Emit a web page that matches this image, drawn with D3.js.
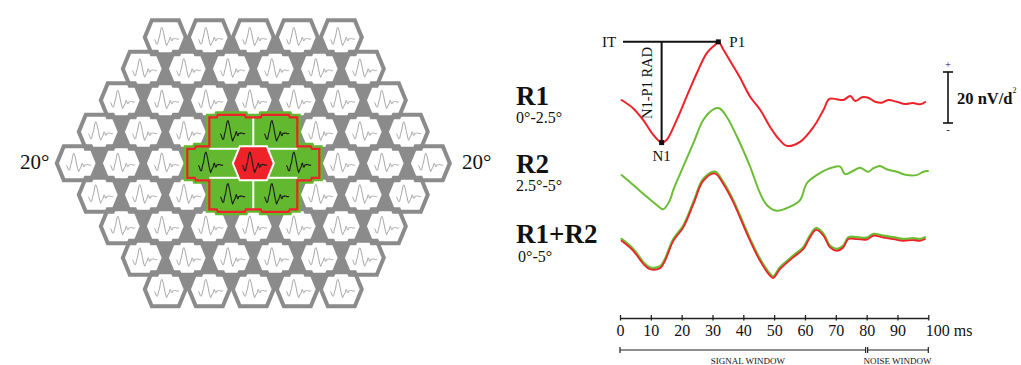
<!DOCTYPE html>
<html>
<head>
<meta charset="utf-8">
<script src="https://cdn.jsdelivr.net/npm/d3@7"></script>
<style>
  html, body { margin: 0; padding: 0; background: #fff; }
  svg { display: block; }
  text { font-family: "Liberation Serif", "Times New Roman", serif; fill: #111; }
</style>
</head>
<body>
<svg id="chart" width="1021" height="365"></svg>
<script>
// ---------------- data ----------------
const timeTicks = [0, 10, 20, 30, 40, 50, 60, 70, 80, 90, 100];
const signalWindow = [0, 80];
const noiseWindow = [80, 100];
const scaleBarValue = 20; // nV/deg²

// Ring 1 (0°-2.5°) averaged response, nV/deg² against time in ms
const r1Time = [0.5, 4.3, 7.5, 10.8, 13.5, 15.1, 18.4, 21.6, 24.9, 28.1, 30.8, 31.9, 33.6, 36.8, 39, 42.2, 45.5, 48.7, 50.9, 54.1, 58.4, 62.8, 66, 67.9, 70.3, 72.5, 74.7, 76.3, 78.5, 80.5, 82.8, 84.9, 87, 89.8, 92.5, 95, 97.4, 99];
const r1Amp = [0, -3.3, -7.8, -13.7, -16.7, -15.7, -7.8, 1.3, 10.5, 18.3, 21.6, 22.8, 19.6, 13.1, 8.6, 1.3, -3.9, -10.6, -14.4, -18, -16.4, -10.5, -3.9, 0.4, 0.3, 0, 1.6, -0.4, 1.1, 0.9, -0.7, -1.1, 0, -0.7, -1.6, -1.2, -1.7, -0.8];

// Ring 2 (2.5°-5°)
const r2Time = [0.5, 4.3, 8.7, 11.9, 14, 16.2, 17.3, 20.5, 23.8, 27, 30.3, 32.2, 34.6, 38.9, 42.2, 45.4, 47.6, 50.8, 55.1, 58.4, 60.6, 63.8, 68.1, 71.4, 73, 75.7, 77.8, 80.5, 82.2, 84.3, 86.5, 89.8, 93, 96.2, 98.4, 99.9];
const r2Amp = [-2, -5.9, -10.5, -13.7, -15.4, -11.8, -7.8, 1.3, 10.5, 19.6, 23.8, 24.2, 20.9, 10.6, 1.3, -9, -13.7, -16, -14.4, -11.8, -5.2, -2, 0.7, 1.3, -1.6, -0.3, 0.9, -0.7, 0.7, 1.6, 0.3, -0.7, -2, -2, -0.7, -0.4];

// Rings 1+2 (0°-5°)
const r12Time = [0.5, 4.3, 7.6, 9.7, 13, 14.6, 17.3, 20.5, 23.8, 27, 30.8, 33.5, 36.8, 38.9, 42.2, 45.4, 48.7, 49.7, 51.9, 56.2, 59.5, 61.6, 63.6, 66, 68.1, 70.3, 72.4, 74.1, 76.8, 80, 82.2, 85.4, 88.7, 91.9, 95.1, 97.3, 98.9];
const r12Amp = [-0.8, -4.7, -9.9, -11.9, -11.5, -8.6, -0.8, 4.4, 13.6, 22.7, 25.6, 21.5, 14.2, 8.4, -0.8, -8.6, -14.5, -15.4, -11.9, -7.3, -4, 0.5, 3.5, 1.2, -3.4, -4.7, -3.4, -0.1, -0.1, -0.3, 1.2, 0.5, -0.1, -0.8, -0.5, -0.8, -0.1];

const ringNames = ["R1", "R2", "R1+R2"];
const ringRanges = ["0°-2.5°", "2.5°-5°", "0°-5°"];
const fieldLabel = "20°";

// ---------------- colours ----------------
const RED = "#ee2229";
const GREEN = "#62b82f";
const GRID_GRAY = "#8b8b8b";
const TRACE_GRAY = "#9b9b9b";

const svg = d3.select("#chart");
const zip = (t, v) => t.map((d, i) => ({ t: d, v: v[i] }));

// ---------------- 61-element hexagon array ----------------
const arrayCenter = [253.3, 163.3];
const colStep = 44, rowStep = 31.5, half = colStep / 2;
const hw = 20.5, ha = 13.5, hh = 17;         // hexagon: half width, half flat edge, half height
const ey = rowStep - hh;                      // level where a cell meets the next row
const ex = ha + (hw - ha) * (hh - ey) / hh;   // slanted edge at that level
const hexShape = [[hw, 0], [ha, hh], [-ha, hh], [-hw, 0], [-ha, -hh], [ha, -hh]];

const cells = [];
for (let r = -4; r <= 4; r++) {
  for (let q = Math.max(-4, -4 - r); q <= Math.min(4, 4 - r); q++) {
    const ring = Math.max(Math.abs(q), Math.abs(r), Math.abs(q + r));
    cells.push({
      q, r, ring,
      x: arrayCenter[0] + colStep * (q + r / 2),
      y: arrayCenter[1] + rowStep * r
    });
  }
}
const cellAt = (q, r) => cells.find(c => c.q === q && c.r === r);
const vert = (c, i) => [c.x + hexShape[i][0], c.y + hexShape[i][1]];
const polyPath = pts => d3.line()(pts) + "Z";
const hexPath = c => polyPath(hexShape.map((p, i) => vert(c, i)));

// wedges between two cells of a row and the cell above or below them
const wedges = [];
cells.forEach(A => {
  const B = cellAt(A.q + 1, A.r);
  if (!B) return;
  const below = cellAt(A.q, A.r + 1);
  if (below) wedges.push([vert(A, 0), vert(B, 3), vert(below, 5), vert(below, 4)]);
  const above = cellAt(A.q + 1, A.r - 1);
  if (above) wedges.push([vert(A, 0), vert(B, 3), vert(above, 1), vert(above, 2)]);
});

const gArray = svg.append("g");
gArray.selectAll("path.wedge")
  .data(wedges)
  .join("path")
  .attr("d", polyPath)
  .attr("fill", GRID_GRAY)
  .attr("stroke", GRID_GRAY)
  .attr("stroke-width", 1);
gArray.selectAll("path.hexFill")
  .data(cells)
  .join("path")
  .attr("d", hexPath)
  .attr("fill", "#fff");
gArray.selectAll("path.hexEdge")
  .data(cells)
  .join("path")
  .attr("d", hexPath)
  .attr("fill", "none")
  .attr("stroke", GRID_GRAY)
  .attr("stroke-width", 4)
  .attr("stroke-linejoin", "miter");

// central seven: outline (one quadrant, mirrored round)
const quad = [
  [0, -(rowStep + ey)], [half - ex, -(rowStep + ey)], [half - ha, -(rowStep + hh)], [half + ha, -(rowStep + hh)],
  [half + ex, -(rowStep + ey)], [colStep, -(rowStep + ey)], [colStep, -hh], [colStep + ha, -hh],
  [colStep + ex, -ey], [colStep + half, -ey], [colStep + half, 0]
];
const loop = [
  ...quad,
  ...quad.slice(0, -1).reverse().map(([a, b]) => [a, -b]),
  ...quad.slice(1).map(([a, b]) => [-a, -b]),
  ...quad.slice(1, -1).reverse().map(([a, b]) => [-a, b])
];
const at = ([dx, dy]) => [arrayCenter[0] + dx, arrayCenter[1] + dy];
const outlinePath = polyPath(loop.map(at));

gArray.append("path")
  .attr("d", outlinePath)
  .attr("fill", GREEN)
  .attr("stroke", GREEN)
  .attr("stroke-width", 7)
  .attr("stroke-linejoin", "miter");

const C0 = cellAt(0, 0);
gArray.append("path")
  .attr("d", hexPath(C0))
  .attr("fill", RED)
  .attr("stroke", "#fff")
  .attr("stroke-width", 2);

// white dividers between the six surrounding cells
const spokes = [
  [[0, -hh], [0, -(rowStep + ey)]],
  [[0, hh], [0, rowStep + ey]],
  [[ex, -ey], [colStep, -ey]],
  [[ex, ey], [colStep, ey]],
  [[-ex, -ey], [-colStep, -ey]],
  [[-ex, ey], [-colStep, ey]]
];
gArray.selectAll("line.spoke")
  .data(spokes)
  .join("line")
  .attr("x1", d => at(d[0])[0]).attr("y1", d => at(d[0])[1])
  .attr("x2", d => at(d[1])[0]).attr("y2", d => at(d[1])[1])
  .attr("stroke", "#fff").attr("stroke-width", 2);

gArray.append("path")
  .attr("d", outlinePath)
  .attr("fill", "none")
  .attr("stroke", RED)
  .attr("stroke-width", 2.2)
  .attr("stroke-linejoin", "miter");

// small local response drawn inside every cell
const ringGain = [0.5, 0.5, 0.47, 0.46, 0.45];
const cellWave = zip(r12Time, r12Amp);
cells.forEach(c => {
  const sx = d3.scaleLinear().domain([0, 100]).range([c.x - 11, c.x + 14]);
  const sy = d3.scaleLinear().domain([0, 10]).range([c.y + 1.5, c.y + 1.5 - 10 * ringGain[c.ring]]);
  gArray.append("path")
    .datum(cellWave)
    .attr("d", d3.line().x(d => sx(d.t)).y(d => sy(d.v)).curve(d3.curveCatmullRom.alpha(0.5)))
    .attr("fill", "none")
    .attr("stroke", c.ring <= 1 ? "#1b1b1b" : TRACE_GRAY)
    .attr("stroke-width", c.ring <= 1 ? 1.1 : 0.9);
});

// field extent labels
svg.append("text").attr("x", 20).attr("y", 169).attr("font-size", 21).text(fieldLabel);
svg.append("text").attr("x", 462).attr("y", 169).attr("font-size", 21).text(fieldLabel);

// ---------------- ring responses ----------------
const x = d3.scaleLinear().domain([0, 100]).range([620, 928.3]);
const pxPerUnit = 51 / scaleBarValue;
const yFor = base => d3.scaleLinear().domain([0, 1]).range([base, base - pxPerUnit]);
const yR1 = yFor(100), yR2 = yFor(170);
const curve = d3.curveCatmullRom.alpha(0.5);
const lineWith = ys => d3.line().x(d => x(d.t)).y(d => ys(d.v)).curve(curve);

const r1Data = zip(r1Time, r1Amp);
const r2Data = zip(r2Time, r2Amp);
const r12Data = zip(r12Time, r12Amp);

const gTr = svg.append("g").attr("fill", "none").attr("stroke-linejoin", "round").attr("stroke-linecap", "round");

// N1 trough and P1 peak of the R1 response
const early = r1Data.filter(d => d.t < 40);
const n1 = early.reduce((a, b) => (b.v < a.v ? b : a));
const p1 = early.reduce((a, b) => (b.v > a.v ? b : a));
const gMeas = svg.append("g");
gMeas.append("line").attr("x1", 623).attr("x2", x(p1.t)).attr("y1", yR1(p1.v)).attr("y2", yR1(p1.v))
  .attr("stroke", "#111").attr("stroke-width", 2);
gMeas.append("line").attr("x1", x(n1.t)).attr("x2", x(n1.t)).attr("y1", yR1(p1.v)).attr("y2", yR1(n1.v))
  .attr("stroke", "#111").attr("stroke-width", 2);

gTr.append("path").datum(r1Data).attr("d", lineWith(yR1)).attr("stroke", RED).attr("stroke-width", 2);
gTr.append("path").datum(r2Data).attr("d", lineWith(yR2)).attr("stroke", "#6cbd36").attr("stroke-width", 2);
gTr.append("path").datum(r12Data).attr("d", lineWith(yFor(237))).attr("stroke", "#6cbd36").attr("stroke-width", 2.4);
gTr.append("path").datum(r12Data).attr("d", lineWith(yFor(238.8))).attr("stroke", RED).attr("stroke-width", 1.8);

[n1, p1].forEach(pk => {
  gMeas.append("rect").attr("x", x(pk.t) - 2.5).attr("y", yR1(pk.v) - 2.5).attr("width", 5).attr("height", 5).attr("fill", "#111");
});
gMeas.append("text").attr("x", 602).attr("y", 47).attr("font-size", 15).text("IT");
gMeas.append("text").attr("x", x(p1.t) + 11).attr("y", 47).attr("font-size", 15).text("P1");
gMeas.append("text").attr("x", x(n1.t)).attr("y", yR1(n1.v) + 18).attr("text-anchor", "middle").attr("font-size", 15).text("N1");
gMeas.append("text")
  .attr("transform", `translate(${x(n1.t) - 10},83) rotate(-90)`)
  .attr("text-anchor", "middle").attr("font-size", 14.5).text("N1-P1 RAD");

// ring labels
const labelBase = [104.5, 173, 242.5];
const rangeBase = [122.5, 191, 262];
ringNames.forEach((n, i) => {
  svg.append("text").attr("x", 516).attr("y", labelBase[i]).attr("font-size", 27).attr("font-weight", "bold").text(n);
  svg.append("text").attr("x", i === 2 ? 518 : 516).attr("y", rangeBase[i]).attr("font-size", 16).text(ringRanges[i]);
});

// amplitude scale bar
const gBar = svg.append("g").attr("stroke", "#111").attr("stroke-width", 1.6);
const barTop = yR1(0) - 28, barBot = barTop + scaleBarValue * pxPerUnit;
gBar.append("line").attr("x1", 948).attr("x2", 948).attr("y1", barTop).attr("y2", barBot);
gBar.append("line").attr("x1", 943).attr("x2", 953).attr("y1", barTop).attr("y2", barTop);
gBar.append("line").attr("x1", 943).attr("x2", 953).attr("y1", barBot).attr("y2", barBot);
svg.append("text").attr("x", 948).attr("y", barTop - 4).attr("text-anchor", "middle").attr("font-size", 10).text("+");
svg.append("text").attr("x", 948).attr("y", barBot + 10).attr("text-anchor", "middle").attr("font-size", 11).text("-");
const barLabel = svg.append("text").attr("x", 957).attr("y", 104).attr("font-size", 16.5).attr("font-weight", "bold");
barLabel.append("tspan").text(scaleBarValue + " nV/d");
barLabel.append("tspan").attr("dy", -11).attr("font-size", 8).attr("font-weight", "normal").text("2");

// ---------------- time axis ----------------
const gAx = svg.append("g").attr("transform", "translate(0,318)")
  .call(d3.axisBottom(x).tickValues(timeTicks).tickSizeInner(3).tickSizeOuter(0).tickFormat(d => d === 100 ? "100 ms" : d));
gAx.select(".domain").attr("stroke", "#222").attr("stroke-width", 1.3);
gAx.selectAll(".tick line").attr("y1", -3).attr("y2", 2.5).attr("stroke", "#222").attr("stroke-width", 1.3);
gAx.selectAll(".tick text")
  .attr("y", 7).attr("font-size", 16).attr("font-family", "Liberation Serif, serif").attr("fill", "#111")
  .filter(d => d === 100).attr("text-anchor", "start").attr("x", -3);

// analysis windows
const gWin = svg.append("g").attr("stroke", "#222").attr("stroke-width", 1.2);
const winY = 350;
[signalWindow, noiseWindow].forEach((w, i) => {
  const a = x(w[0]) + (i === 1 ? 1 : 0), b = x(w[1]) - (i === 0 ? 1 : 0);
  gWin.append("line").attr("x1", a).attr("x2", b).attr("y1", winY).attr("y2", winY);
  gWin.append("line").attr("x1", a).attr("x2", a).attr("y1", winY - 3).attr("y2", winY + 3);
  gWin.append("line").attr("x1", b).attr("x2", b).attr("y1", winY - 3).attr("y2", winY + 3);
});
svg.append("text").attr("x", x(41.5)).attr("y", 364).attr("text-anchor", "middle").attr("font-size", 9).text("SIGNAL WINDOW");
svg.append("text").attr("x", x((noiseWindow[0] + noiseWindow[1]) / 2)).attr("y", 364).attr("text-anchor", "middle").attr("font-size", 9).text("NOISE WINDOW");
</script>
</body>
</html>
